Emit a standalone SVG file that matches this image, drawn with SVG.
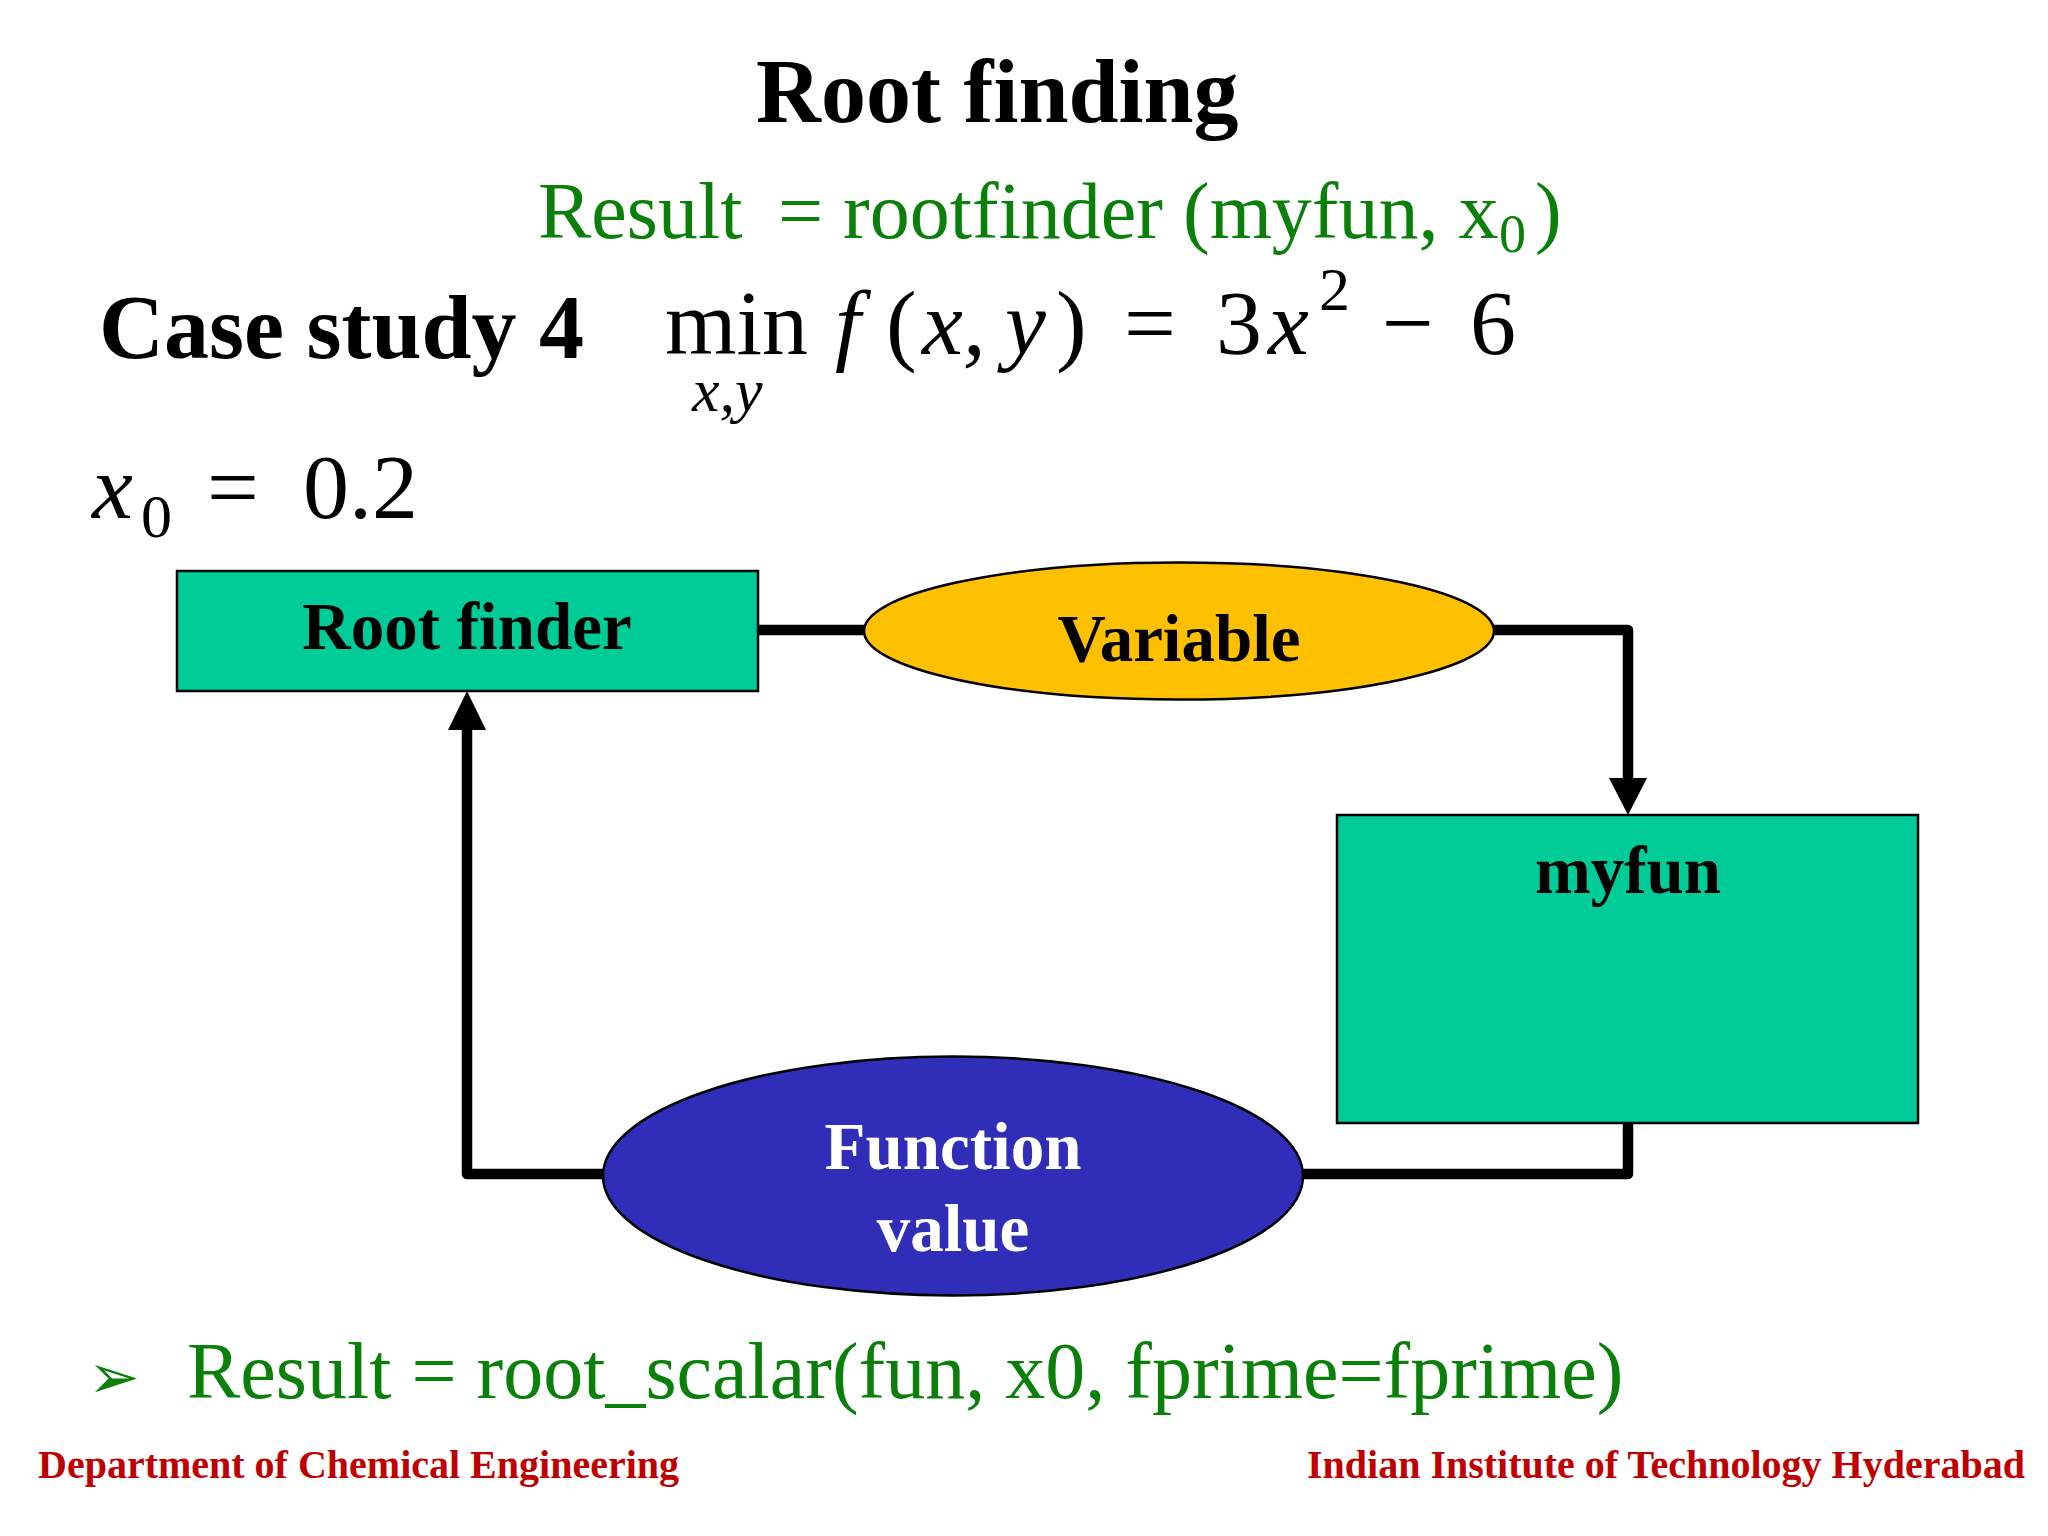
<svg xmlns="http://www.w3.org/2000/svg" width="2048" height="1536" viewBox="0 0 2048 1536">
<style>
text{font-family:"Liberation Serif","Times New Roman",serif}
.b{font-weight:bold}
.g{fill:#0a800a;font-size:80px}
.r{fill:#c00000;font-weight:bold;font-size:40px}
.l{font-weight:bold;font-size:67px;text-anchor:middle}
.m{font-size:92px;fill:#000}
.i{font-style:italic}
.n{stroke:#000;stroke-width:2.5px}
.c{fill:none;stroke:#000;stroke-width:10.5px;stroke-linejoin:round;stroke-linecap:round}
</style>
<rect width="2048" height="1536" fill="#fff"/>
<text class="b" x="756" y="122" font-size="90">Root finding</text>
<text class="g" x="538" y="238">Result</text>
<text class="g" x="778" y="238">= rootfinder (myfun, x</text>
<text x="1499" y="252" fill="#0a800a" font-size="54">0</text>
<text class="g" x="1535" y="238">)</text>
<text class="b" x="99" y="358" font-size="90">Case study 4</text>
<g id="equation">
<text class="m" x="665" y="354">min</text>
<text class="m i" x="692" y="411" font-size="62" style="font-size:62px">x,y</text>
<text class="m i" x="835" y="354">f</text>
<text class="m" x="886" y="354">(</text>
<text class="m i" x="922" y="354">x,</text>
<text class="m i" x="1005" y="354">y</text>
<text class="m" x="1056" y="354">)</text>
<text class="m" x="1124" y="354">=</text>
<text class="m" x="1216" y="354">3</text>
<text class="m i" x="1268" y="354">x</text>
<text class="m" x="1319" y="310" style="font-size:62px">2</text>
<text class="m" x="1382" y="354">−</text>
<text class="m" x="1470" y="354">6</text>
</g>
<g id="initial">
<text class="m i" x="92" y="518">x</text>
<text class="m" x="141" y="537" style="font-size:62px">0</text>
<text class="m" x="207" y="518">=</text>
<text class="m" x="303" y="518">0.2</text>
</g>
<g id="connectors">
<path class="c" d="M757 630H1628V790"/>
<path class="c" d="M1628 1123V1174H467V725"/>
<polygon points="1628,815 1609,778 1647,778"/>
<polygon points="467,691 448,730 486,730"/>
</g>
<g id="root-finder"><rect class="n" x="177" y="571" width="581" height="120" fill="#00cc99"/><text class="l" x="467" y="649">Root finder</text></g>
<g id="variable"><ellipse class="n" cx="1179" cy="631" rx="315" ry="68.5" fill="#ffc000"/><text class="l" x="1179" y="661">Variable</text></g>
<g id="myfun"><rect class="n" x="1337" y="815" width="581" height="308" fill="#00cc99"/><text class="l" x="1628" y="893">myfun</text></g>
<g id="function-value"><ellipse class="n" cx="953" cy="1176" rx="350" ry="119.5" fill="#302eb8"/><text class="l" x="953" y="1169" fill="#fff">Function</text><text class="l" x="953" y="1251" fill="#fff">value</text></g>
<text x="88" y="1398" fill="#0a800a" font-size="62" style="font-family:'DejaVu Sans',sans-serif">➢</text>
<text class="g" x="187" y="1398">Result = root_scalar(fun, x0, fprime=fprime)</text>
<text class="r" x="38" y="1478">Department of Chemical Engineering</text>
<text class="r" x="1307" y="1478">Indian Institute of Technology Hyderabad</text>
</svg>
